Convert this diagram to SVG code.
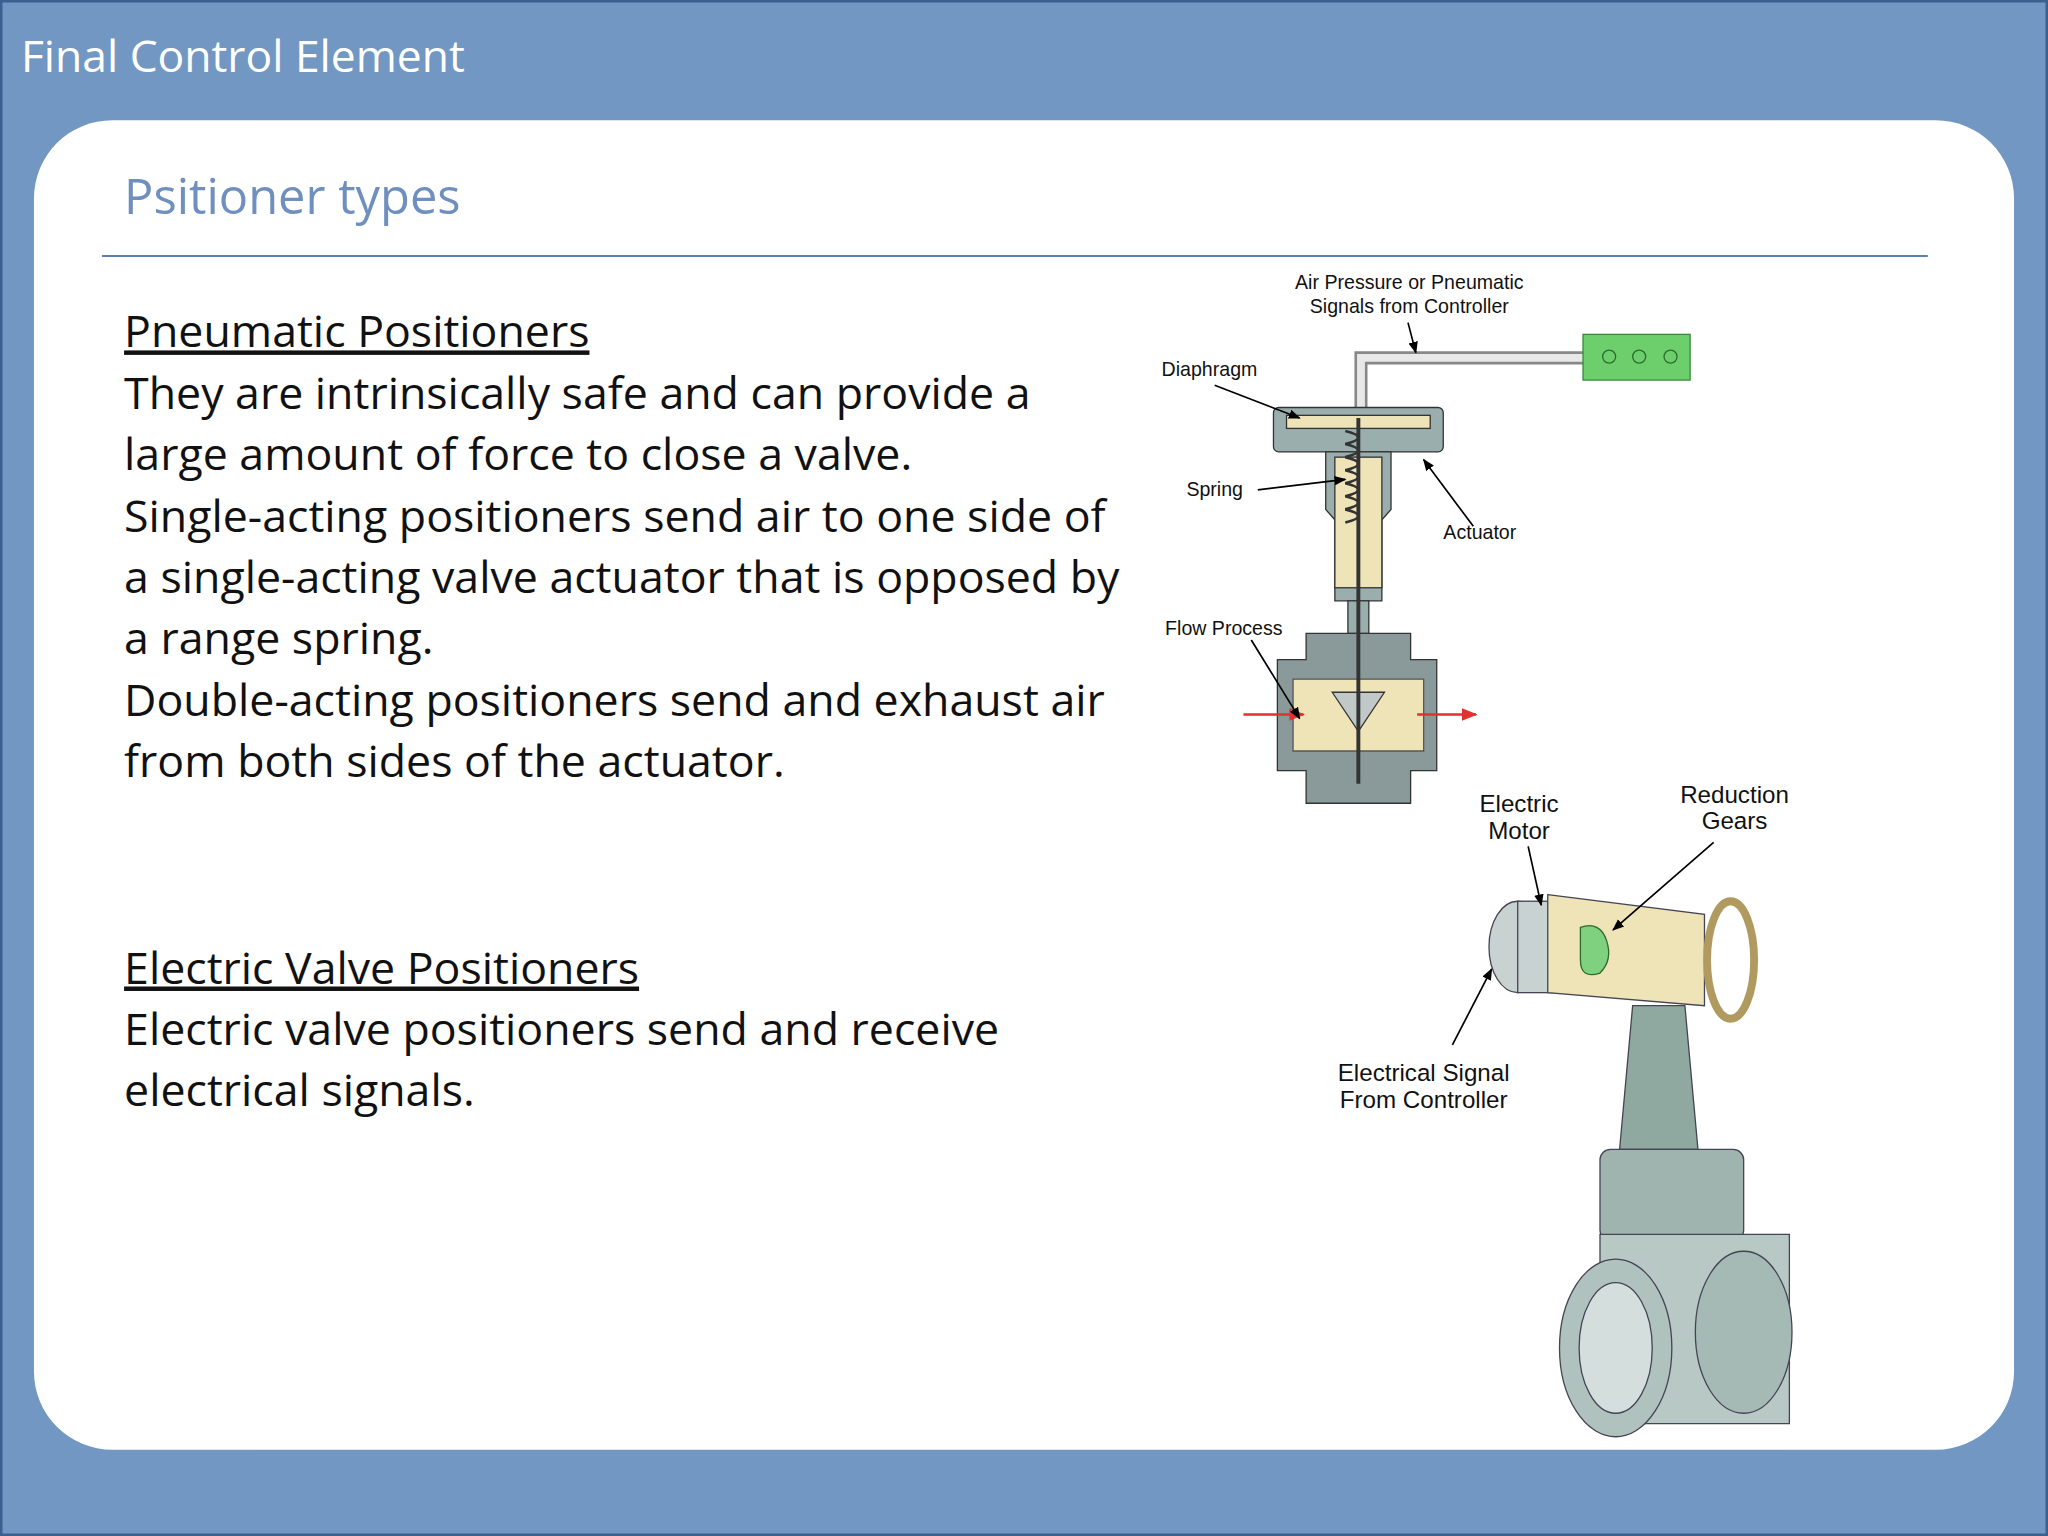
<svg xmlns="http://www.w3.org/2000/svg" width="2048" height="1536" viewBox="0 0 2048 1536">
<style>
.b{font-family:"Open Sans","Liberation Sans",sans-serif;font-size:34.2px;fill:#111}
.s{font-family:"Liberation Sans",Arial,sans-serif;font-size:15px;fill:#111}
.m{font-family:"Liberation Sans",Arial,sans-serif;font-size:18.5px;fill:#111;text-anchor:middle}
.ld{stroke:#000;stroke-width:1.3;fill:none;marker-end:url(#a)}
</style>
<defs><marker id="a" viewBox="0 0 10 10" refX="9" refY="5" markerWidth="7" markerHeight="7" orient="auto"><path d="M0,1 L10,5 L0,9 z" fill="#000"/></marker>
<marker id="r" viewBox="0 0 10 10" refX="9" refY="5" markerWidth="6" markerHeight="6" orient="auto"><path d="M0,1 L10,5 L0,9 z" fill="#e03030"/></marker></defs>
<rect width="2048" height="1536" fill="#7197c2"/>
<rect x="1" y="1" width="2046" height="1534" fill="none" stroke="#3d5f8f" stroke-width="3"/>
<g transform="scale(1.30612)">
<text x="16" y="55" font-family="'Open Sans','Liberation Sans',sans-serif" font-size="34" fill="#fff">Final Control Element</text>
<rect x="26" y="92" width="1516" height="1018" rx="60" fill="#fff"/>
<text x="95" y="164" font-family="'Open Sans','Liberation Sans',sans-serif" font-size="37.4" fill="#6f8fbf">Psitioner types</text>
<line x1="78" y1="196" x2="1476" y2="196" stroke="#5b7fb0" stroke-width="1.5"/>
<g id="text1">
<text class="b" x="95" y="266" text-decoration="underline">Pneumatic Positioners</text>
<text class="b" x="95" y="313">They are intrinsically safe and can provide a</text>
<text class="b" x="95" y="360">large amount of force to close a valve.</text>
<text class="b" x="95" y="407">Single-acting positioners send air to one side of</text>
<text class="b" x="95" y="454">a single-acting valve actuator that is opposed by</text>
<text class="b" x="95" y="501">a range spring.</text>
<text class="b" x="95" y="548">Double-acting positioners send and exhaust air</text>
<text class="b" x="95" y="595">from both sides of the actuator.</text>
<text class="b" x="95" y="753" text-decoration="underline">Electric Valve Positioners</text>
<text class="b" x="95" y="800">Electric valve positioners send and receive</text>
<text class="b" x="95" y="847">electrical signals.</text>
</g>
<g id="pneumatic">
<path d="M1212,274 H1042 V312" fill="none" stroke="#888" stroke-width="10"/>
<path d="M1212,274 H1042 V312" fill="none" stroke="#e8e8e8" stroke-width="6"/>
<rect x="1212" y="256" width="82" height="35" fill="#6ccf6c" stroke="#3a8a3a"/>
<circle cx="1232" cy="273" r="5" fill="none" stroke="#2d6b2d"/><circle cx="1255" cy="273" r="5" fill="none" stroke="#2d6b2d"/><circle cx="1279" cy="273" r="5" fill="none" stroke="#2d6b2d"/>
<rect x="975" y="312" width="130" height="34" rx="4" fill="#9aaeae" stroke="#333"/>
<rect x="985" y="318" width="110" height="10" fill="#efe3b8" stroke="#333"/>
<path d="M1015,346 H1065 V390 L1058,398 V460 H1022 V398 L1015,390 Z" fill="#9aaeae" stroke="#333"/>
<rect x="1022" y="350" width="36" height="100" fill="#efe3b8" stroke="#333"/>
<path d="M1030,330 q20,5 0,10 q20,5 0,10 q20,5 0,10 q20,5 0,10 q20,5 0,10 q20,5 0,10 q20,5 0,10" fill="none" stroke="#333" stroke-width="2"/>
<rect x="1032" y="460" width="16" height="25" fill="#9aaeae" stroke="#333"/>
<path d="M1000,485 H1080 V505 H1100 V590 H1080 V615 H1000 V590 H978 V505 H1000 Z" fill="#8a9a9a" stroke="#333"/>
<path d="M990,520 H1090 V575 H990 Z" fill="#efe3b8" stroke="#555"/>
<path d="M1020,530 H1060 L1040,560 Z" fill="#c0c8c8" stroke="#333"/>
<line x1="1040" y1="320" x2="1040" y2="600" stroke="#333" stroke-width="3"/>
<line x1="952" y1="547" x2="998" y2="547" stroke="#e03030" stroke-width="2" marker-end="url(#r)"/>
<line x1="1085" y1="547" x2="1130" y2="547" stroke="#e03030" stroke-width="2" marker-end="url(#r)"/>
<text class="s" x="1079" y="221" text-anchor="middle">Air Pressure or Pneumatic</text>
<text class="s" x="1079" y="240" text-anchor="middle">Signals from Controller</text>
<text class="s" x="926" y="288" text-anchor="middle">Diaphragm</text>
<text class="s" x="930" y="380" text-anchor="middle">Spring</text>
<text class="s" x="1133" y="413" text-anchor="middle">Actuator</text>
<text class="s" x="937" y="486" text-anchor="middle">Flow Process</text>
<path class="ld" d="M1078,247 L1084,270"/>
<path class="ld" d="M930,295 L995,320"/>
<path class="ld" d="M963,375 L1030,367"/>
<path class="ld" d="M1128,403 L1090,352"/>
<path class="ld" d="M958,490 L995,550"/>
</g>
<g id="electric">
<path d="M1250,770 H1290 L1300,880 H1240 Z" fill="#8fa8a0" stroke="#445"/>
<rect x="1225" y="880" width="110" height="70" rx="8" fill="#9fb4ae" stroke="#445"/>
<path d="M1225,945 H1370 V1090 H1225 Z" fill="#b8c8c4" stroke="#445"/>
<ellipse cx="1335" cy="1020" rx="37" ry="62" fill="#a6bab5" stroke="#445"/>
<ellipse cx="1237" cy="1032" rx="43" ry="68" fill="#b0c2be" stroke="#445"/>
<ellipse cx="1237" cy="1032" rx="28" ry="50" fill="#d4dedc" stroke="#445"/>
<ellipse cx="1162" cy="725" rx="22" ry="35" fill="#c8d2d0" stroke="#445"/>
<rect x="1162" y="690" width="28" height="70" fill="#c8d2d0" stroke="#445"/>
<path d="M1185,685 L1305,700 V770 L1185,760 Z" fill="#efe3b8" stroke="#445"/>
<path d="M1210,710 q15,-5 20,10 q5,15 -5,25 q-15,5 -15,-10 z" fill="#7fd07f" stroke="#2d6b2d"/>
<ellipse cx="1325" cy="735" rx="18" ry="45" fill="none" stroke="#b09a60" stroke-width="6"/>
<text class="m" x="1163" y="622">Electric</text><text class="m" x="1163" y="642">Motor</text>
<text class="m" x="1328" y="615">Reduction</text><text class="m" x="1328" y="635">Gears</text>
<text class="m" x="1090" y="828">Electrical Signal</text><text class="m" x="1090" y="848">From Controller</text>
<path class="ld" d="M1170,648 L1180,693"/>
<path class="ld" d="M1312,645 L1235,712"/>
<path class="ld" d="M1112,800 L1142,742"/>
</g>
</g>
</svg>
